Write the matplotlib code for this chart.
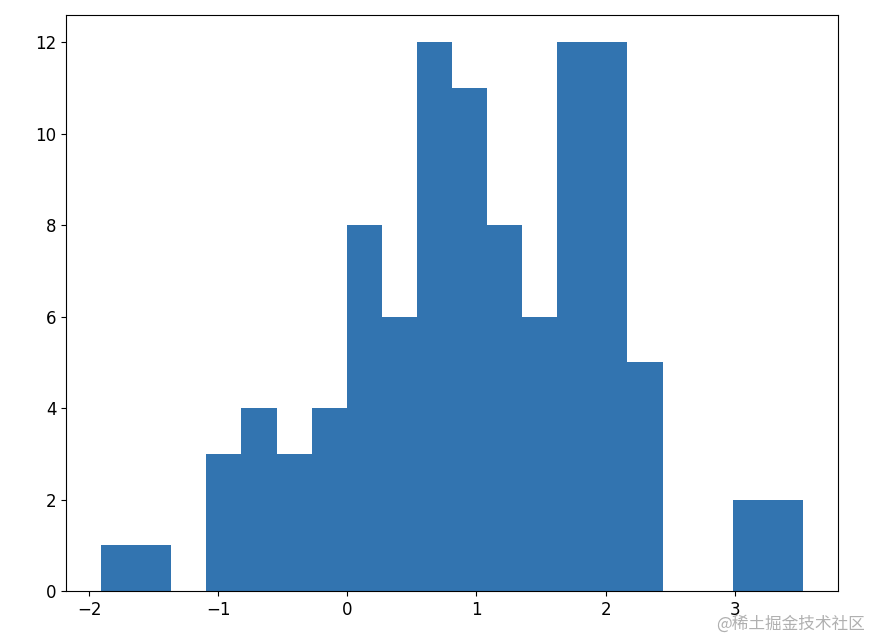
import numpy as np
import matplotlib
matplotlib.use("Agg")
import matplotlib.pyplot as plt

# histogram: 20 bins, 100 samples
x_min = -1.907
x_max = 3.528
counts = [1, 1, 0, 3, 4, 3, 4, 8, 6, 12, 11, 8, 6, 12, 12, 5, 0, 0, 2, 2]


def main():
    edges = np.linspace(x_min, x_max, len(counts) + 1)
    centers = (edges[:-1] + edges[1:]) / 2

    fig = plt.figure(figsize=(8.75, 6.4), dpi=100)
    ax = fig.add_axes([0.0754, 0.0766, 0.8823, 0.9000])
    ax.hist(centers, bins=edges, weights=counts, color="#3274b0")

    ax.tick_params(labelsize=12)

    fig.text(0.988, 0.012, "@稀土掘金技术社区", ha="right", va="bottom",
             fontsize=12, color="#b0b0b0",
             family=["Noto Sans CJK SC", "DejaVu Sans"])

    fig.savefig("out.png", dpi=100)


if __name__ == "__main__":
    main()
